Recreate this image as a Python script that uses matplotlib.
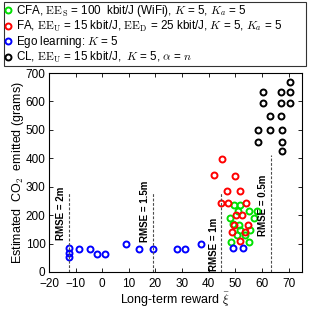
import matplotlib
matplotlib.use("Agg")
import matplotlib.pyplot as plt

plt.rcParams["font.family"] = ["Liberation Sans", "DejaVu Sans"]
plt.rcParams["mathtext.fontset"] = "cm"

# CFA (green)
cfa_x = [49.6, 51.6, 50.8, 55.3, 58.0, 47.9, 56.9, 49.2, 51.5, 51.7, 55.5, 50.6, 53.5, 48.4, 55.0]
cfa_y = [234, 234, 215, 215, 215, 190, 190, 169, 164, 149, 149, 131, 131, 106, 106]

# FA (red)
fa_x = [45.1, 41.8, 49.8, 46.7, 51.6, 44.5, 47.1, 53.9, 50.2, 52.4, 49.4, 54.9, 48.9, 53.6, 51.6]
fa_y = [399, 341, 339, 286, 286, 241, 241, 241, 201, 201, 164, 166, 139, 139, 108]

# Ego learning (blue)
ego_x = [-12.4, -12.4, -12.4, -8.9, -4.6, -1.9, 1.1, 8.8, 13.7, 19.1, 28.1, 31.1, 37.0, 49.1, 52.7]
ego_y = [84, 67, 51, 81, 81, 63, 63, 98, 81, 81, 81, 81, 97, 83, 83]

# CL (black)
cl_x = [70.5, 60.3, 67.3, 70.5, 60.3, 67.3, 70.5, 62.9, 67.3, 58.5, 62.9, 67.4, 58.5, 67.4, 67.4]
cl_y = [667, 632, 632, 632, 594, 594, 594, 547, 547, 500, 500, 500, 459, 459, 424]

# RMSE reference lines
rmse_x = [-12.6, 19.1, 44.7, 63.2]
rmse_top = [280, 280, 280, 412]
rmse_text = ["RMSE = 2m", "RMSE = 1.5m", "RMSE = 1m", "RMSE = 0.5m"]
rmse_text_y = [205, 212, 96, 233]

labels = [
    r"CFA, $\mathrm{EE_S}$ = 100  kbit/J (WiFi), $K$ = 5, $K_a$ = 5",
    r"FA, $\mathrm{EE_U}$ = 15 kbit/J, $\mathrm{EE_D}$ = 25 kbit/J, $K$ = 5, $K_a$ = 5",
    r"Ego learning: $K$ = 5",
    r"CL, $\mathrm{EE_U}$ = 15 kbit/J,  $K$ = 5, $\alpha$ = $n$",
]
colors = ["#00e000", "#ff0000", "#0000ff", "#000000"]

fig = plt.figure(figsize=(3.1, 3.1), dpi=100)
ax = fig.add_axes([0.158, 0.1226, 0.816, 0.6419])

handles = []
for xs, ys, c, lab in zip((cfa_x, fa_x, ego_x, cl_x), (cfa_y, fa_y, ego_y, cl_y), colors, labels):
    (h,) = ax.plot(xs, ys, linestyle="none", marker="o", markersize=4.3,
                   markerfacecolor="none", markeredgecolor=c, markeredgewidth=1.4, label=lab)
    handles.append(h)

for x, top, txt, ty in zip(rmse_x, rmse_top, rmse_text, rmse_text_y):
    ax.vlines(x, 0, top, colors="0.3", linestyles=(0, (2.5, 1.5)), linewidth=0.8)
    ax.text(x - 1.0, ty, txt, rotation=90, ha="right", va="center",
            fontsize=7, fontweight="bold")

ax.set_xlim(-20, 75)
ax.set_ylim(0, 700)
ax.set_xticks(range(-20, 71, 10))
ax.set_yticks(range(0, 701, 100))
ax.tick_params(direction="in", top=True, right=True, length=3, labelsize=8.5, width=0.6)
ax.tick_params(axis="x", pad=4.5)
ax.tick_params(axis="y", pad=2.5)
for s in ax.spines.values():
    s.set_linewidth(0.8)
ax.set_xlabel(r"Long-term reward $\bar{\xi}$", fontsize=9, labelpad=0)
ax.set_ylabel(r"Estimated  CO$_2$  emitted (grams)", fontsize=9, labelpad=0)

leg = fig.legend(handles=handles, loc="upper left", bbox_to_anchor=(0.013, 0.5, 0.974, 0.494),
                 mode="expand", fontsize=8.4, frameon=True, fancybox=False, edgecolor="black",
                 handlelength=0.5, handletextpad=0.45, labelspacing=0.0, borderpad=0.1,
                 borderaxespad=0)
leg.get_frame().set_linewidth(0.8)

fig.savefig("out.png", dpi=100)
